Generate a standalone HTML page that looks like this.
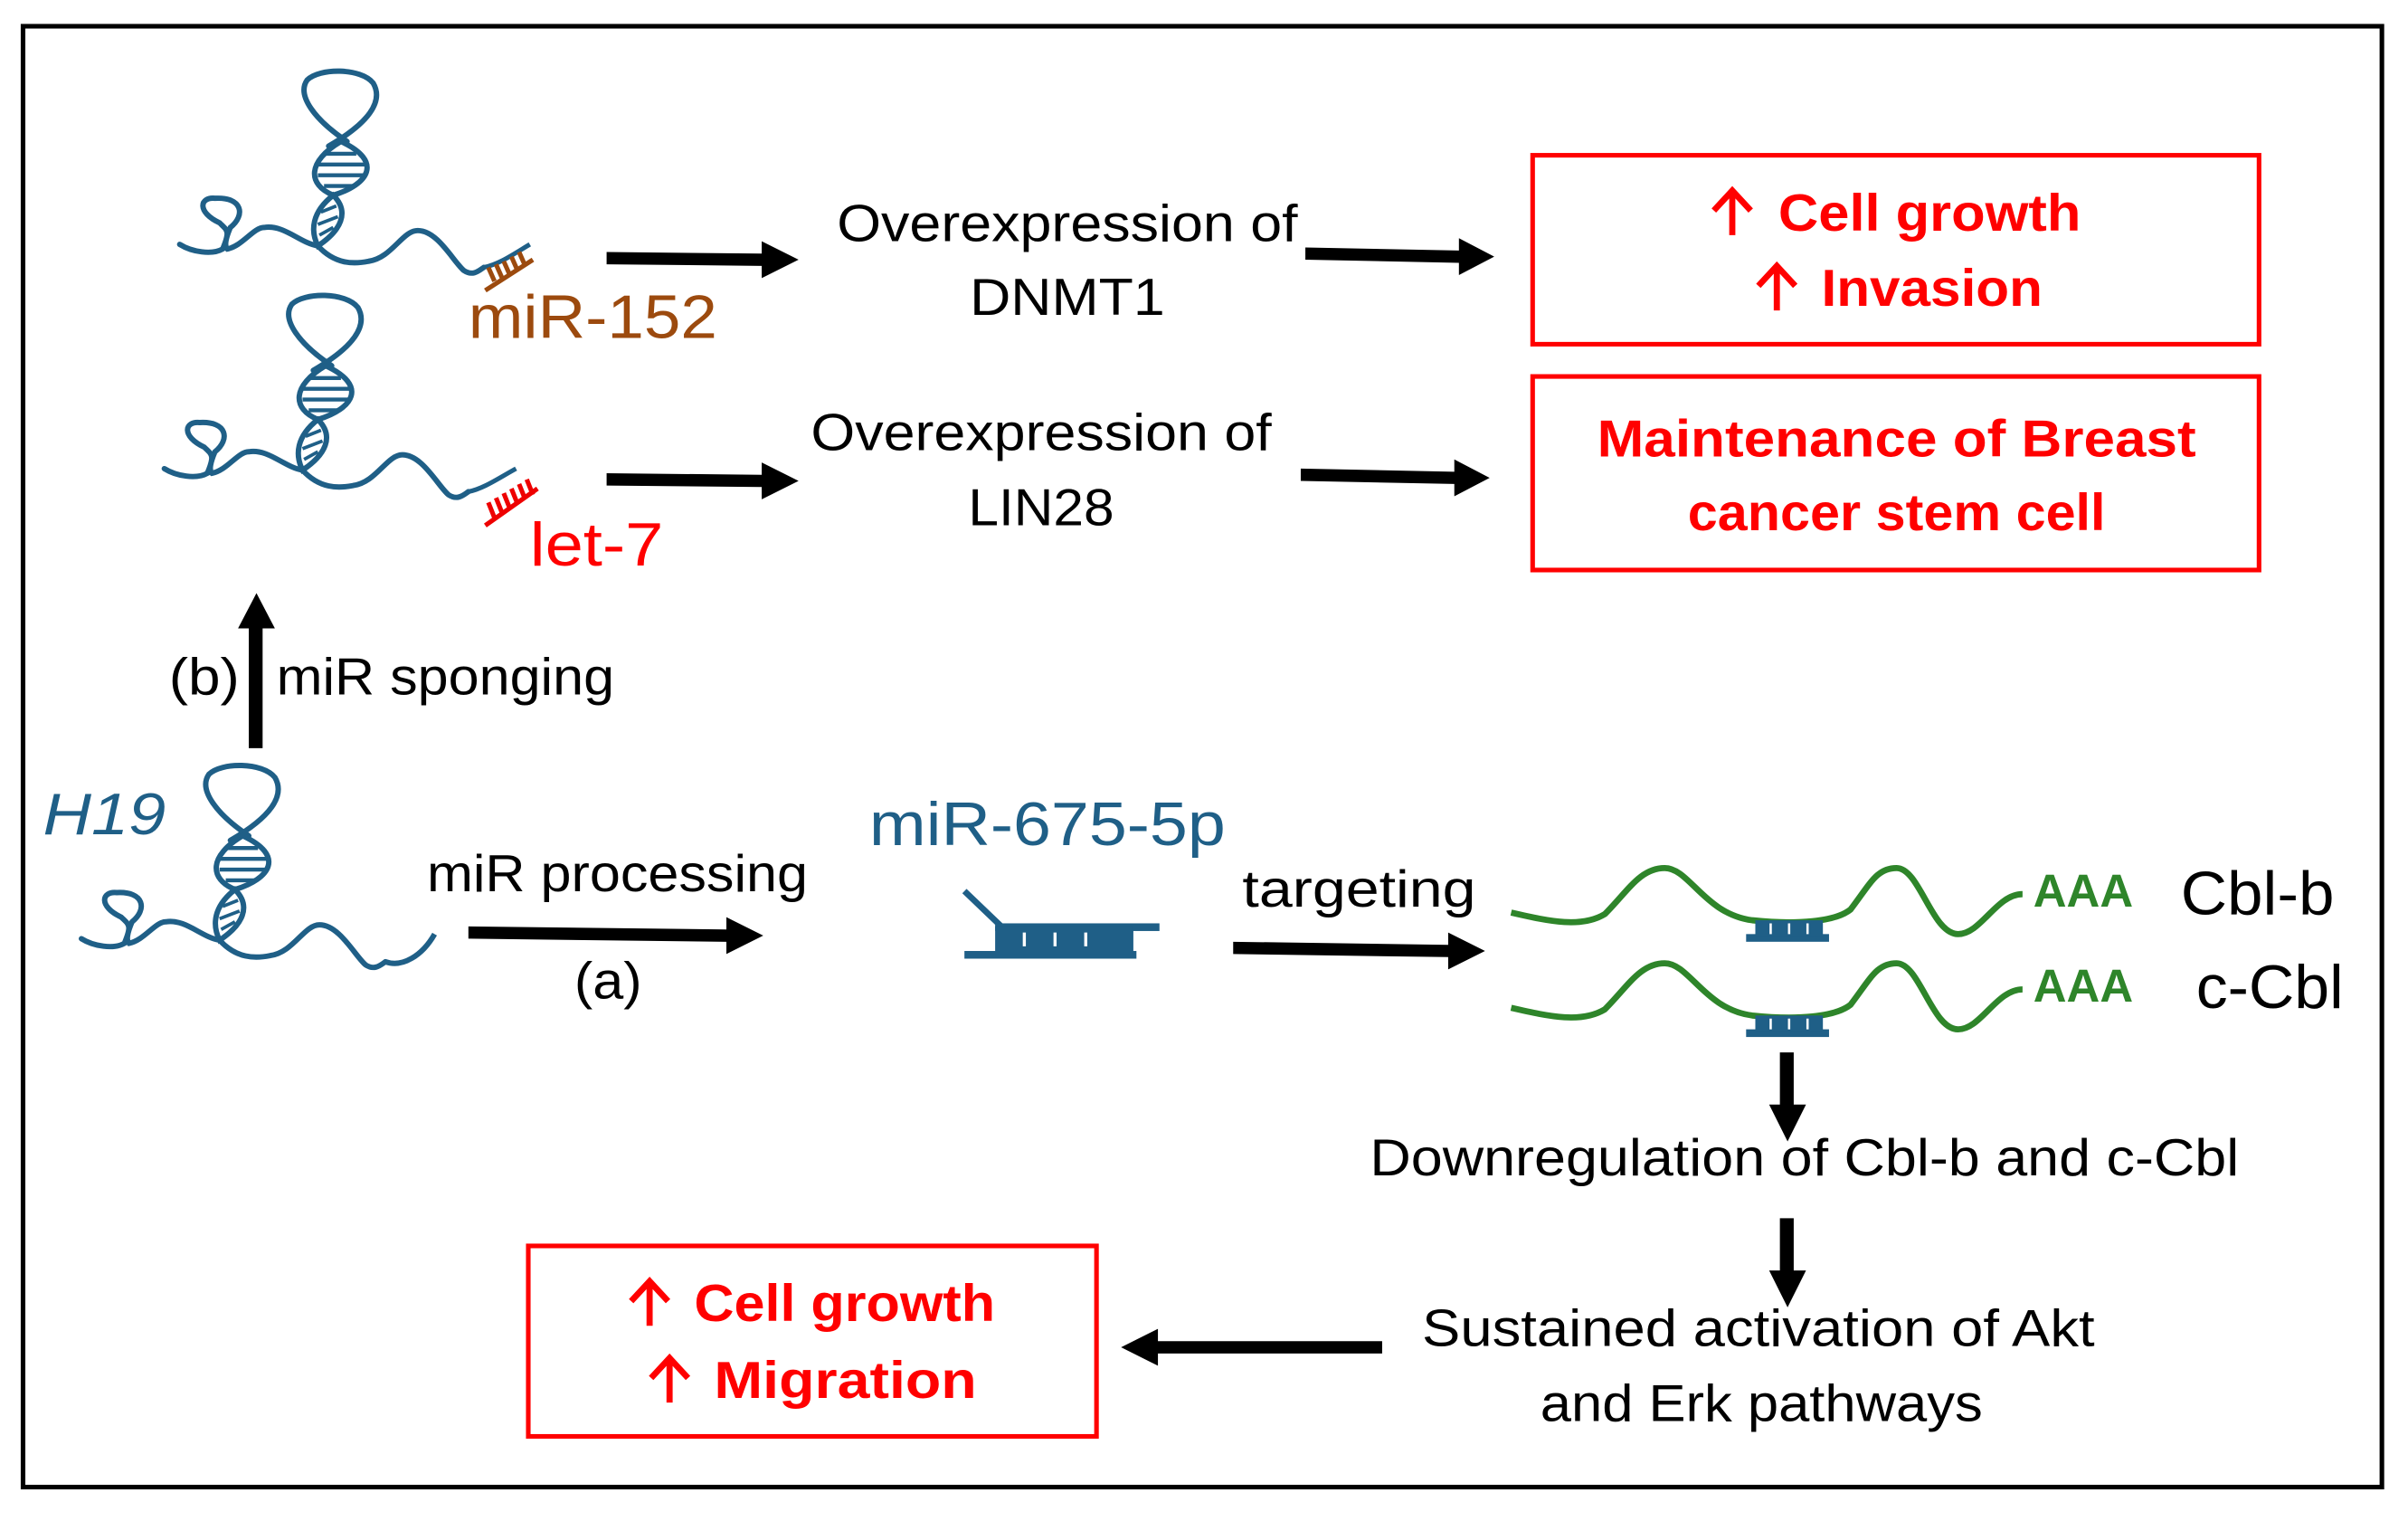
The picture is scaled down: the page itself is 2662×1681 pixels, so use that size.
<!DOCTYPE html>
<html><head><meta charset="utf-8"><style>
html,body{margin:0;padding:0;background:#fff;}
svg{display:block;}
text{font-family:"Liberation Sans",sans-serif;}
</style></head><body>
<svg width="2662" height="1681" viewBox="0 0 1568 990" xmlns="http://www.w3.org/2000/svg">
<defs>
<g id="rna" fill="none" stroke="#1f5f87" stroke-width="3.5" stroke-linecap="round">
 <path d="M226,92 C205,78 193,62 200,52 C208,44 235,44 243,54 C250,66 240,80 214,95"/>
 <path d="M222,92 C200,105 200,120 217,127 C240,120 250,105 222,92 Z"/>
 <path d="M212,100 L232,100 M207,107 L238,107 M207,114 L237,114 M211,121 L230,121" stroke-width="2.6" stroke-linecap="butt"/>
 <path d="M217,127 C203,138 202,150 207,160 C222,150 228,138 217,127 Z"/>
 <path d="M209,138 L219,134 M207,146 L220,141 M208,153 L217,148" stroke-width="2.2" stroke-linecap="butt"/>
 <path d="M117,159 C125,164 138,166 145,162 C150,150 148,150 143,145 C128,138 130,128 140,129 C158,128 160,140 150,148 C147,155 146,160 148,162 C158,160 165,148 172,148 C185,146 195,158 207,160 C218,172 230,172 240,170 C255,168 262,150 272,150 C285,150 295,170 302,176 C308,180 312,176 315,174"/>
</g>
</defs>
<rect x="15" y="17" width="1536" height="951" fill="none" stroke="#000" stroke-width="3"/>

<use href="#rna"/>
<path d="M315,174 C325,172 335,165 345,159" fill="none" stroke="#1f5f87" stroke-width="3"/>
<path d="M316,189 L347,169 M318,174 L322,183 M323,172 L327,181 M328,170 L332,179 M333,167 L337,176 M338,164 L342,173" stroke="#9c4a0e" stroke-width="3"/>
<text x="305" y="220" font-size="40" fill="#9c4a0e" textLength="162" lengthAdjust="spacingAndGlyphs">miR-152</text>

<use href="#rna" transform="translate(-10,146)"/>
<path d="M305,320 C315,318 325,311 336,305" fill="none" stroke="#1f5f87" stroke-width="3"/>
<path d="M316,342 L350,318 M318,327 L322,337 M323,324 L327,334 M328,321 L332,331 M333,318 L337,328 M338,315 L342,325 M343,312 L347,322" stroke="#e00" stroke-width="3"/>
<text x="345" y="368" font-size="40" fill="#f00" textLength="87" lengthAdjust="spacingAndGlyphs">let-7</text>

<use href="#rna" transform="translate(-64,452)"/>
<path d="M251,626 C262,630 275,622 283,608" fill="none" stroke="#1f5f87" stroke-width="3.5"/>
<text x="28" y="543" font-size="38" font-style="italic" fill="#1f5f87" textLength="80" lengthAdjust="spacingAndGlyphs">H19</text>

<g fill="#000">
<polygon points="395,164 496,165 496,157 520,169 496,181 496,173 395,172"/>
<polygon points="850,161 950,163 950,155 973,167 950,179 950,171 850,169"/>
<polygon points="395,308 496,309 496,301 520,313 496,325 496,317 395,316"/>
<polygon points="847,305 947,307 947,299 970,311 947,323 947,315 847,313"/>
<polygon points="162,487 162,409 155,409 167,386 179,409 171,409 171,487"/>
<polygon points="305,603 473,605 473,597 497,609 473,621 473,613 305,611"/>
<polygon points="803,613 943,615 943,607 967,619 943,631 943,623 803,621"/>
<polygon points="1159,685 1159,719 1152,719 1164,743 1176,719 1168,719 1168,685"/>
<polygon points="1159,793 1159,827 1152,827 1164,851 1176,827 1168,827 1168,793"/>
<polygon points="900,873 754,873 754,865 730,877 754,889 754,881 900,881"/>
</g>

<g font-size="34" fill="#000" text-anchor="middle">
<text x="695" y="157" textLength="300" lengthAdjust="spacingAndGlyphs">Overexpression of</text>
<text x="695" y="205" textLength="127" lengthAdjust="spacingAndGlyphs">DNMT1</text>
<text x="678" y="293" textLength="300" lengthAdjust="spacingAndGlyphs">Overexpression of</text>
<text x="678" y="342" textLength="95" lengthAdjust="spacingAndGlyphs">LIN28</text>
</g>

<rect x="998" y="101" width="473" height="123" fill="none" stroke="#f00" stroke-width="3"/>
<rect x="998" y="245" width="473" height="126" fill="none" stroke="#f00" stroke-width="3"/>
<rect x="344" y="811" width="370" height="124" fill="none" stroke="#f00" stroke-width="3"/>
<g fill="none" stroke="#f00" stroke-width="4">
<path d="M1128,153 V124 M1116,137 L1128,124 L1140,137"/>
<path d="M1157,202 V173 M1145,186 L1157,173 L1169,186"/>
<path d="M423,863 V834 M411,847 L423,834 L435,847"/>
<path d="M436,913 V884 M424,897 L436,884 L448,897"/>
</g>
<g font-size="34" font-weight="bold" fill="#f00">
<text x="1158" y="150" textLength="197" lengthAdjust="spacingAndGlyphs">Cell growth</text>
<text x="1186" y="199" textLength="144" lengthAdjust="spacingAndGlyphs">Invasion</text>
<text x="1235" y="297" text-anchor="middle" textLength="390" lengthAdjust="spacingAndGlyphs">Maintenance of Breast</text>
<text x="1235" y="345" text-anchor="middle" textLength="272" lengthAdjust="spacingAndGlyphs">cancer stem cell</text>
<text x="452" y="860" textLength="196" lengthAdjust="spacingAndGlyphs">Cell growth</text>
<text x="465" y="910" textLength="171" lengthAdjust="spacingAndGlyphs">Migration</text>
</g>

<g font-size="34" fill="#000">
<text x="110" y="452" textLength="46" lengthAdjust="spacingAndGlyphs">(b)</text>
<text x="180" y="452" textLength="220" lengthAdjust="spacingAndGlyphs">miR sponging</text>
</g>
<g font-size="34" fill="#000" text-anchor="middle">
<text x="402" y="580" textLength="248" lengthAdjust="spacingAndGlyphs">miR processing</text>
<text x="396" y="650" textLength="44" lengthAdjust="spacingAndGlyphs">(a)</text>
<text x="885" y="590" textLength="152" lengthAdjust="spacingAndGlyphs">targeting</text>
<text x="1175" y="765" textLength="566" lengthAdjust="spacingAndGlyphs">Downregulation of Cbl-b and c-Cbl</text>
<text x="1145" y="876" textLength="438" lengthAdjust="spacingAndGlyphs">Sustained activation of Akt</text>
<text x="1147" y="925" textLength="288" lengthAdjust="spacingAndGlyphs">and Erk pathways</text>
</g>

<text x="682" y="550" font-size="40" fill="#1f5f87" text-anchor="middle" textLength="232" lengthAdjust="spacingAndGlyphs">miR-675-5p</text>
<path d="M628,580 L652,603" stroke="#1f5f87" stroke-width="4"/>
<rect x="648" y="601" width="107" height="5" fill="#1f5f87"/>
<rect x="628" y="619" width="112" height="5" fill="#1f5f87"/>
<rect x="648" y="603" width="90" height="18" fill="#1f5f87"/>
<path d="M667,607 V616 M687,607 V616 M707,607 V616" stroke="#fff" stroke-width="2"/>

<g fill="none" stroke="#2e852a" stroke-width="4">
<path d="M984,594 C1010,600 1030,604 1045,595 C1060,580 1068,565 1084,565 C1100,565 1110,595 1141,599 C1170,602 1195,600 1205,592 C1218,575 1222,565 1235,565 C1250,565 1258,608 1275,608 C1290,608 1300,582 1317,582"/>
<path d="M984,656 C1010,662 1030,666 1045,657 C1060,642 1068,627 1084,627 C1100,627 1110,657 1141,661 C1170,664 1195,662 1205,654 C1218,637 1222,627 1235,627 C1250,627 1258,670 1275,670 C1290,670 1300,644 1317,644"/>
</g>
<g fill="#1f5f87">
<rect x="1137" y="608" width="54" height="5"/><rect x="1143" y="599" width="44" height="10"/>
<rect x="1137" y="670" width="54" height="5"/><rect x="1143" y="661" width="44" height="10"/>
</g>
<path d="M1153,601 V608 M1165,601 V608 M1177,601 V608 M1153,663 V670 M1165,663 V670 M1177,663 V670" stroke="#fff" stroke-width="1.5"/>
<g font-size="30" font-weight="bold" fill="#2e852a">
<text x="1324" y="590" textLength="65" lengthAdjust="spacingAndGlyphs">AAA</text>
<text x="1324" y="652" textLength="65" lengthAdjust="spacingAndGlyphs">AAA</text>
</g>
<g font-size="40" fill="#000">
<text x="1420" y="595" textLength="100" lengthAdjust="spacingAndGlyphs">Cbl-b</text>
<text x="1430" y="656" textLength="96" lengthAdjust="spacingAndGlyphs">c-Cbl</text>
</g>
</svg>
</body></html>
